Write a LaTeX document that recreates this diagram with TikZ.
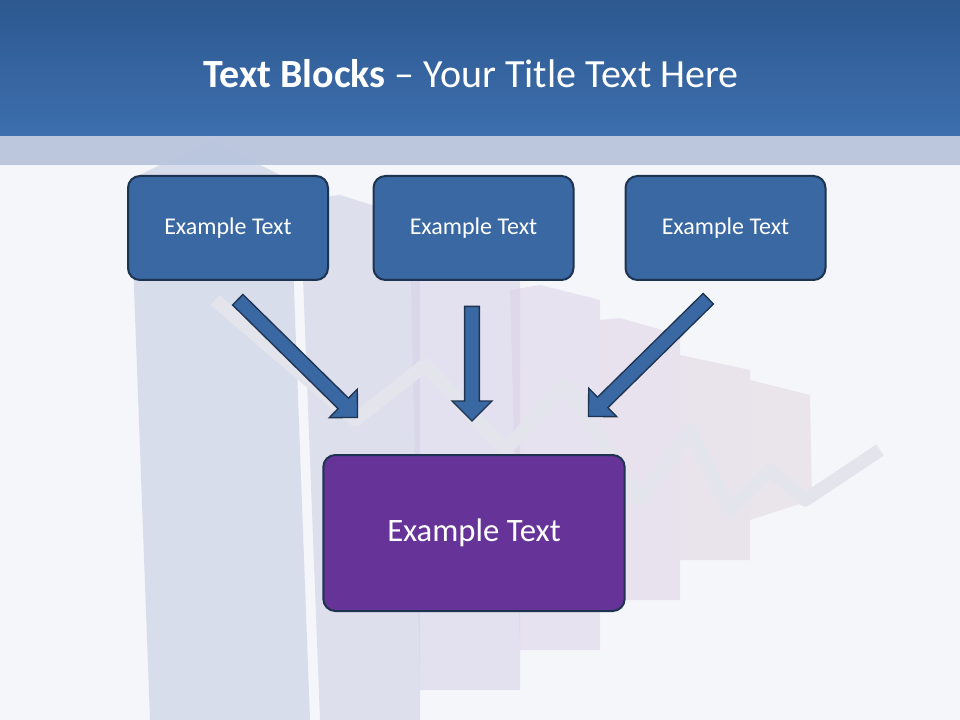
\documentclass[tikz,border=0pt]{standalone}
\usepackage{fontspec}
\setmainfont{Carlito}
\usetikzlibrary{shapes.arrows}
\definecolor{hdtop}{HTML}{2D5890}
\definecolor{hdbot}{HTML}{3D6FAE}
\definecolor{band}{HTML}{B9C5DD}
\definecolor{bg}{HTML}{F5F6FA}
\definecolor{boxfill}{HTML}{3A68A3}
\definecolor{boxline}{HTML}{1E3350}
\definecolor{purp}{HTML}{663399}
\definecolor{zig}{HTML}{E4E5EC}
\definecolor{c1}{HTML}{C0CADF}
\definecolor{c2}{HTML}{CCCDE4}
\definecolor{c3}{HTML}{D5D1E6}
\definecolor{c4}{HTML}{DAD2E6}
\definecolor{c5}{HTML}{DDD3E4}
\definecolor{c6}{HTML}{E0D5E2}
\definecolor{c7}{HTML}{E2D8DF}
\begin{document}
\begin{tikzpicture}[x=0.75pt,y=-0.75pt,
  tbox/.style={draw=boxline,line width=1.5pt,fill=boxfill,rounded corners=9pt,text=white,font=\fontsize{18}{21}\selectfont},
  barr/.style={single arrow,draw=boxline,line width=1pt,fill=boxfill,minimum width=30pt,single arrow head extend=6pt,single arrow tip angle=90,inner sep=3pt},
  bar/.style={fill=#1,draw=none,opacity=0.55}]
\useasboundingbox (0,0) rectangle (960,720);
\fill[bg] (0,0) rectangle (960,720);
% faint background chart
\fill[bar=c1] (130,180) -- (210,140) -- (290,180) -- (310,720) -- (150,720) -- cycle;
\fill[bar=c2] (300,200) -- (340,195) -- (420,220) -- (420,720) -- (320,720) -- cycle;
\fill[bar=c3] (410,240) -- (470,230) -- (520,260) -- (520,690) -- (420,690) -- cycle;
\fill[bar=c4] (510,290) -- (540,285) -- (600,300) -- (600,650) -- (520,650) -- cycle;
\fill[bar=c5] (600,320) -- (620,318) -- (680,335) -- (680,600) -- (600,600) -- cycle;
\fill[bar=c6] (680,355) -- (750,370) -- (750,560) -- (680,560) -- cycle;
\fill[bar=c7] (750,380) -- (810,395) -- (812,500) -- (750,520) -- cycle;
\draw[zig,line width=10pt,line join=round]
  (215,300) -- (355,420) -- (425,365) -- (505,450) -- (565,385) -- (640,500) -- (690,430) -- (730,510) -- (770,470) -- (805,500) -- (880,450);
% header
\shade[top color=hdtop,bottom color=hdbot] (0,0) rectangle (960,136);
\fill[band,opacity=0.95] (0,136) rectangle (960,165);
\node[text=white,font=\fontsize{30}{36}\selectfont,anchor=west,inner sep=0pt] (title) at (203,74) {\textbf{Text Blocks} -- Your Title Text Here};
% boxes
\node[tbox,minimum width=150pt,minimum height=78pt] (b1) at (228,228) {Example Text};
\node[tbox,minimum width=150pt,minimum height=78pt] (b2) at (473.5,228) {Example Text};
\node[tbox,minimum width=150pt,minimum height=78pt] (b3) at (725.5,228) {Example Text};
\node[tbox,fill=purp,minimum width=226pt,minimum height=117pt,font=\fontsize{24.5}{29}\selectfont] (main) at (474,533) {Example Text};
% block arrows
\node[barr,minimum height=126pt,rotate=-44.5] (a1) at (295,356) {};
\node[barr,minimum height=86pt,rotate=-90] (a2) at (472,360) {};
\node[barr,minimum height=126pt,rotate=-135.5] (a3) at (651,355) {};
\end{tikzpicture}
\end{document}
